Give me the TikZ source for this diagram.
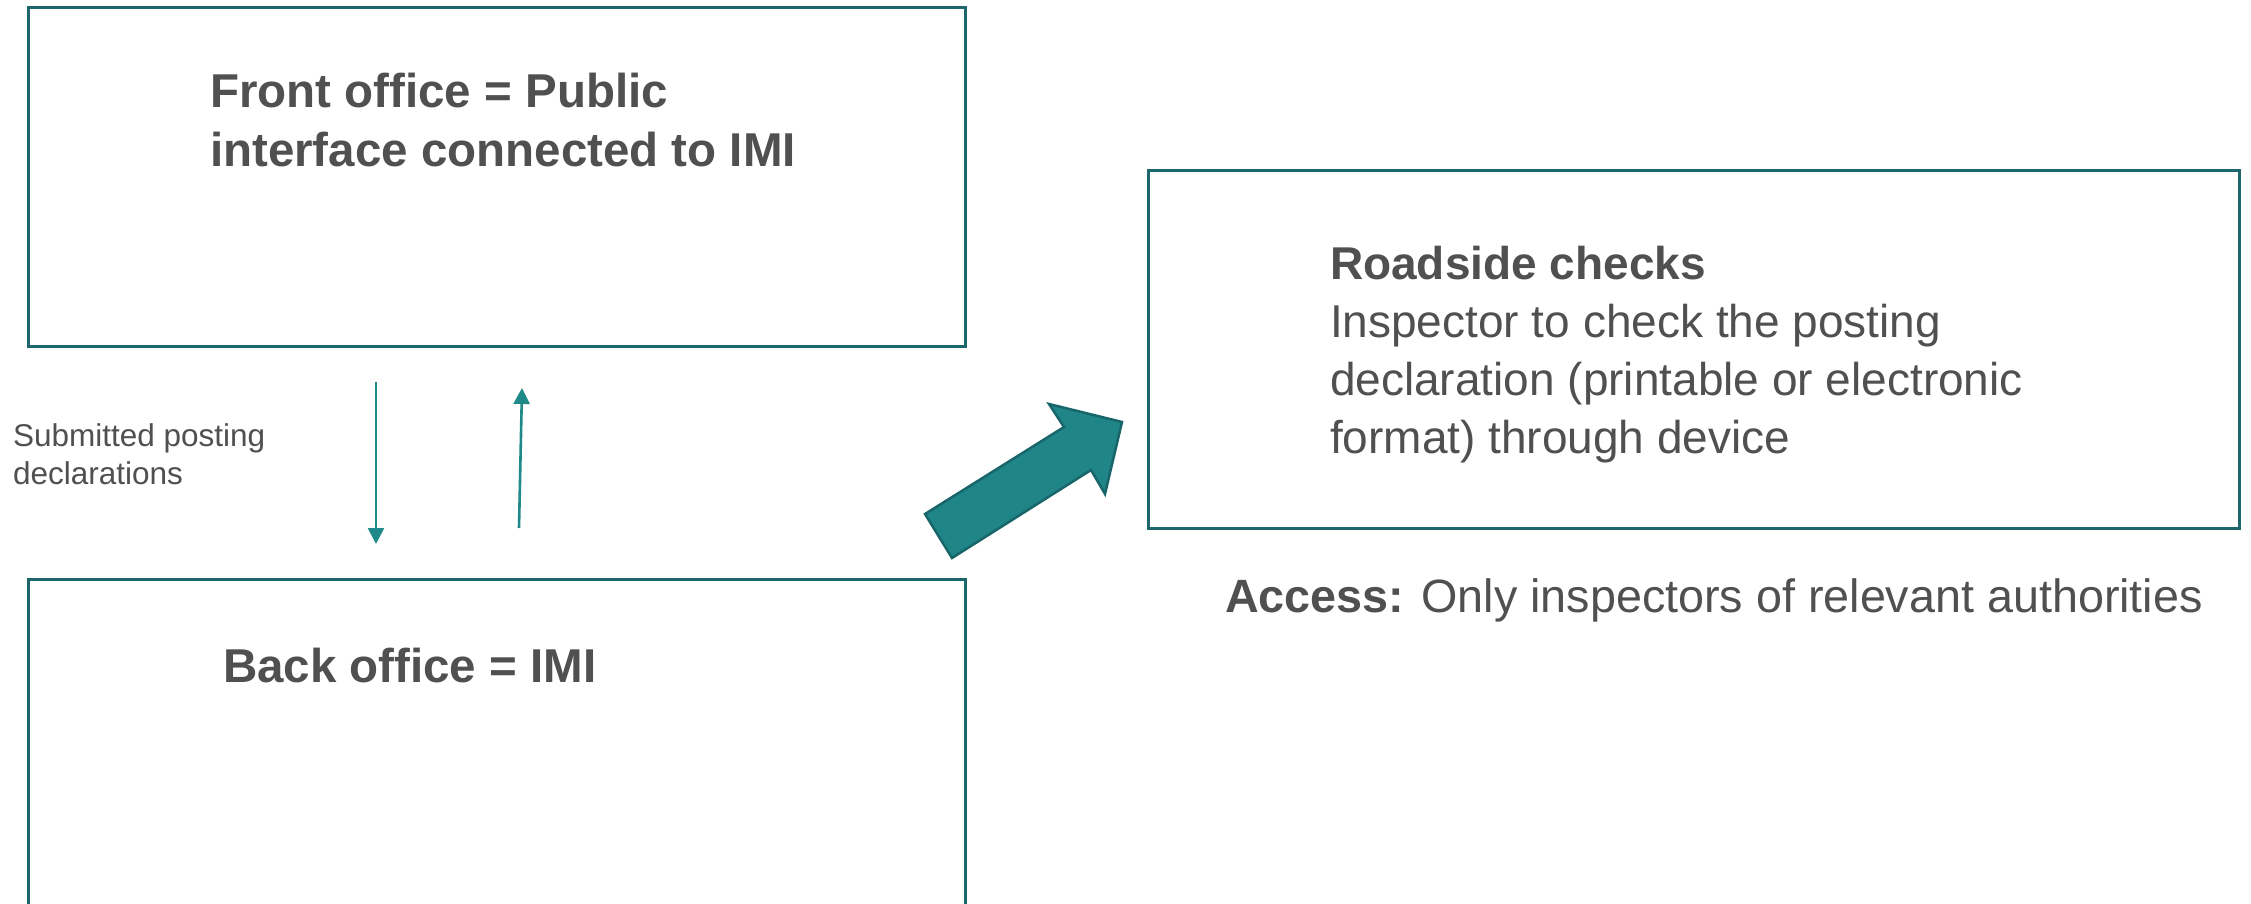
\documentclass[tikz,border=0pt]{standalone}
\usepackage{fontspec}
\setmainfont{Liberation Sans}
\usetikzlibrary{arrows.meta}
\definecolor{boxc}{RGB}{28,102,108}
\definecolor{tealfill}{RGB}{31,133,134}
\definecolor{tealline}{RGB}{24,102,106}
\definecolor{arrc}{RGB}{31,136,136}
\definecolor{txt}{RGB}{80,80,80}
\tikzset{
  panel/.style={draw=boxc, line width=3pt, fill=white},
  label/.style={inner sep=0pt, outer sep=0pt, text=txt, align=left},
  bigtxt/.style={label, font=\fontsize{47.5}{59}\selectfont},
  smalltxt/.style={label, font=\fontsize{31.5}{38}\selectfont},
  flow/.style={draw=arrc, line width=2.6pt, -{Triangle[width=16pt,length=16pt]}},
  bigarrow/.style={fill=tealfill, draw=tealline, line width=2.5pt, line join=miter}
}
\begin{document}
\begin{tikzpicture}[x=1pt,y=-1pt]
\useasboundingbox (0,0) rectangle (2251,904);
\clip (0,0) rectangle (2251,904);
\fill[white] (0,0) rectangle (2251,904);

% boxes
\draw[panel] (28,8) rectangle (965,346);
\draw[panel] (28,579) rectangle (965,960);
\draw[panel] (1148,171) rectangle (2239,528);

% texts
\node[bigtxt, anchor=north west] (front) at (210,73)
  {\textbf{Front office = Public}\\\textbf{interface connected to IMI}};
\node[bigtxt, anchor=base west] (back) at (223,682) {\textbf{Back office = IMI}};
\node[bigtxt, font=\fontsize{46}{58}\selectfont, anchor=north west] (road) at (1330,246)
  {\textbf{Roadside checks}\\Inspector to check the posting\\declaration (printable or electronic\\format) through device};
\node[bigtxt, font=\fontsize{46.7}{58}\selectfont, anchor=base west] (access) at (1225,612)
  {\textbf{Access:} Only inspectors of relevant authorities};
\node[smalltxt, anchor=north west] (sub) at (13,424)
  {Submitted posting\\declarations};

% small arrows
\coordinate (d1) at (376,382);
\coordinate (d2) at (376,544);
\coordinate (u1) at (519,528);
\coordinate (u2) at (522,388);
\draw[flow] (d1) -- (d2);
\draw[flow] (u1) -- (u2);

% big arrow
\draw[bigarrow] (925,514) -- (952,558) -- (1091,470) -- (1105,494) -- (1122,422)
  -- (1049,404) -- (1064,427) -- cycle;
\end{tikzpicture}
\end{document}
